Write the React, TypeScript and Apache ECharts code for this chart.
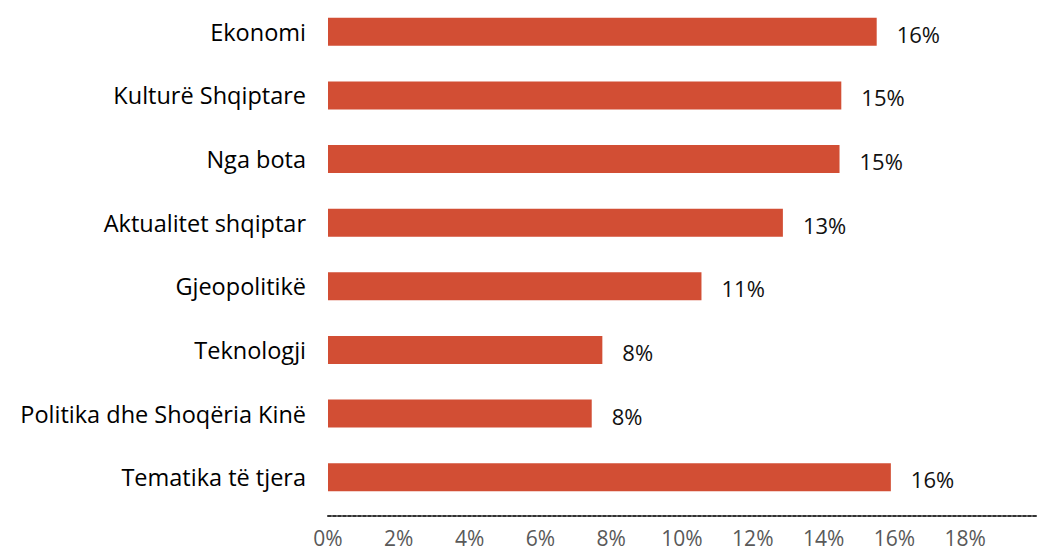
import React, { useEffect, useRef } from "react";
import * as echarts from "echarts";

const categories = [
  "Ekonomi",
  "Kulturë Shqiptare",
  "Nga bota",
  "Aktualitet shqiptar",
  "Gjeopolitikë",
  "Teknologji",
  "Politika dhe Shoqëria Kinë",
  "Tematika të tjera",
];
const values = [15.5, 14.5, 14.45, 12.85, 10.55, 7.75, 7.45, 15.9];
const valueLabels = ["16%", "15%", "15%", "13%", "11%", "8%", "8%", "16%"];

const FONT = "'Open Sans', Lato, sans-serif";

export default function App() {
  const ref = useRef<HTMLDivElement>(null);
  useEffect(() => {
    document.body.style.margin = "0";
    const chart = echarts.init(ref.current!, null, { renderer: "svg" });
    chart.setOption({
      animation: false,
      grid: { left: 328, right: 5, top: 0, height: 509, containLabel: false },
      xAxis: {
        type: "value",
        min: 0,
        max: 20,
        interval: 2,
        offset: 7,
        axisLine: {
          show: true,
          lineStyle: { color: "#333", width: 2, type: [3, 2] },
        },
        axisTick: { show: false },
        splitLine: { show: false },
        axisLabel: {
          formatter: "{value}%",
          color: "#595959",
          fontSize: 21,
          fontFamily: FONT,
          margin: 11,
          showMaxLabel: false,
        },
      },
      yAxis: {
        type: "category",
        data: categories,
        inverse: true,
        axisLine: { show: false },
        axisTick: { show: false },
        axisLabel: {
          color: "#000",
          fontSize: 23.5,
          fontFamily: FONT,
          margin: 22,
        },
      },
      series: [
        {
          type: "bar",
          data: values,
          barWidth: 28,
          itemStyle: { color: "#D24E34" },
          label: {
            show: true,
            position: "right",
            distance: 20,
            color: "#111",
            fontSize: 22,
            fontFamily: FONT,
            offset: [0, 2],
            formatter: (p: any) => valueLabels[p.dataIndex],
          },
        },
      ],
    });
    return () => chart.dispose();
  }, []);
  return (
    <div
      ref={ref}
      style={{ position: "absolute", left: 0, top: 0, width: 1041, height: 549 }}
    />
  );
}
